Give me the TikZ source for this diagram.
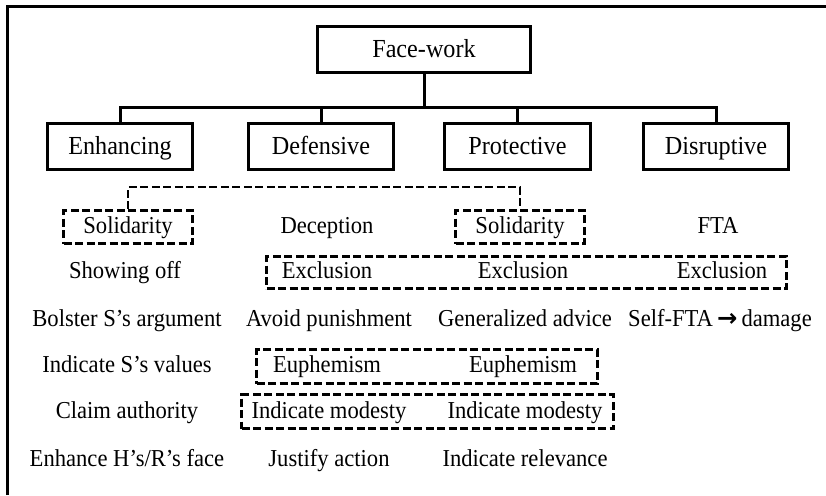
\documentclass[tikz,border=0pt]{standalone}
\usepackage{fontspec}
\setmainfont{Liberation Serif}[FakeStretch=0.93]
\newfontfamily\arrowfont{DejaVu Sans}
\begin{document}
\begin{tikzpicture}[x=1pt,y=-1pt,
  solidbox/.style={draw,line width=3pt,inner sep=0pt,minimum height=46pt,
    text height=18pt,text depth=2pt,font=\fontsize{26}{30}\selectfont},
  dashbox/.style={draw,line width=2.7pt,dash pattern=on 8pt off 3.5pt,inner sep=0pt},
  dashlink/.style={line width=2.7pt,dash pattern=on 8pt off 3.5pt},
  item/.style={inner sep=0pt,text height=17pt,text depth=4pt,font=\fontsize{24.3}{28}\selectfont},
  link/.style={line width=3pt}]
\useasboundingbox (0,0) rectangle (826,495);
% frame edges
\draw[line width=3pt] (7.5,495) -- (7.5,6.5) -- (826,6.5);

% hierarchy
\node[solidbox,minimum width=213pt] (fw) at (424,49.5) {Face-work};
\node[solidbox,minimum width=145pt] (enh) at (120,146) {Enhancing};
\node[solidbox,minimum width=145pt] (def) at (321,146) {Defensive};
\node[solidbox,minimum width=146pt] (pro) at (517.5,146) {Protective};
\node[solidbox,minimum width=145pt] (dis) at (716,146) {Disruptive};
\coordinate (bus) at (0,107);
\draw[link] (fw.south) -- (fw.south |- bus);
\draw[link] (enh.north) -- (enh.north |- bus) -- (dis.north |- bus) -- (dis.north);
\draw[link] (def.north) -- (def.north |- bus);
\draw[link] (pro.north) -- (pro.north |- bus);

% row 1
\node[dashbox,minimum width=129pt,minimum height=33pt,item] (sol1) at (128,227) {Solidarity};
\node[item] (dec) at (327,227) {Deception};
\node[dashbox,minimum width=129pt,minimum height=33pt,item] (sol2) at (520,227) {Solidarity};
\node[item] (fta) at (718,227) {FTA};
\coordinate (sbus) at (0,187);
\draw[dashlink] (sol1.north) -- (sol1.north |- sbus) -- (sol2.north |- sbus) -- (sol2.north);

% row 2
\node[dashbox,minimum width=520pt,minimum height=32pt] (exbox) at (526.5,272.5) {};
\node[item] (show) at (125,272) {Showing off};
\node[item] (ex1) at (327,272) {Exclusion};
\node[item] (ex2) at (523,272) {Exclusion};
\node[item] (ex3) at (722,272) {Exclusion};

% row 3
\node[item] (bol) at (127,320) {Bolster S’s argument};
\node[item] (avo) at (329,320) {Avoid punishment};
\node[item] (gen) at (525,320) {Generalized advice};
\node[item] (self) at (720,320) {Self-FTA\,{\arrowfont\bfseries →}\,damage};

% row 4
\node[dashbox,minimum width=341pt,minimum height=34pt] (eubox) at (427,366.5) {};
\node[item] (val) at (127,366) {Indicate S’s values};
\node[item] (eu1) at (327,366) {Euphemism};
\node[item] (eu2) at (523,366) {Euphemism};

% row 5
\node[dashbox,minimum width=372pt,minimum height=34pt] (mobox) at (427.5,411.5) {};
\node[item] (cla) at (127,412) {Claim authority};
\node[item] (mo1) at (329,412) {Indicate modesty};
\node[item] (mo2) at (525,412) {Indicate modesty};

% row 6
\node[item] (enf) at (127,460) {Enhance H’s/R’s face};
\node[item] (jus) at (329,460) {Justify action};
\node[item] (rel) at (525,460) {Indicate relevance};
\end{tikzpicture}
\end{document}
